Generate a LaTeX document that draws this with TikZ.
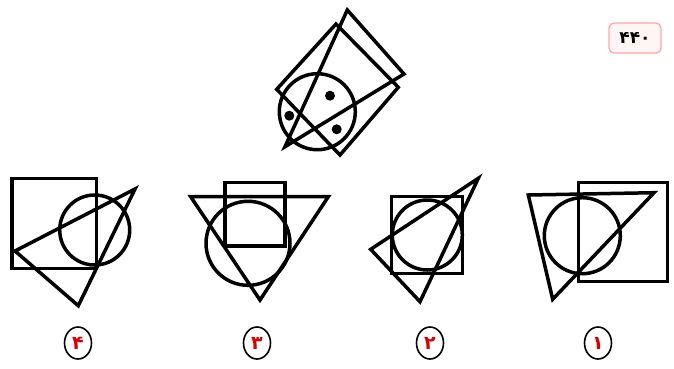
\documentclass[tikz,border=0pt]{standalone}
\usepackage{fontspec}
\usetikzlibrary{shapes.geometric}
\newfontfamily\arabicfont[Script=Arabic]{DejaVu Sans}
\tikzset{
  optlabel/.style={draw=black, ellipse, line width=1.6pt, fill=white,
    minimum width=27pt, minimum height=32pt, inner sep=0pt,
    text=red!85!black, font=\arabicfont\bfseries\fontsize{19}{22}\selectfont},
  qbox/.style={draw=red!35, rounded corners=5pt, line width=1.3pt, fill=red!4,
    minimum width=52pt, minimum height=30pt,
    font=\arabicfont\bfseries\fontsize{17}{20}\selectfont}
}
\begin{document}
\begin{tikzpicture}[x=1pt,y=-1pt,line width=3.5pt,line join=miter]
\useasboundingbox (0,0) rectangle (674,368);
% question figure
\draw (336,24) -- (398.3,87.3) -- (340,155) -- (276.7,89.3) -- cycle;
\draw (347.3,10) -- (404,74) -- (285,146.7) -- cycle;
\draw (317.3,111.7) circle[radius=38];
\fill (330,95.7) circle[radius=5];
\fill (289.3,115.7) circle[radius=5];
\fill (336.7,129.3) circle[radius=5];
% option 4
\draw (12,178.3) rectangle (96.7,268.3);
\draw (94.7,230) circle[radius=35];
\draw (135,189) -- (15,251) -- (78.3,305.7) -- cycle;
% option 3
\draw (225,182.7) rectangle (285,246);
\draw (248,243.3) circle[radius=42];
\draw (190.7,196.7) -- (328.3,196.7) -- (260,300) -- cycle;
% option 2
\draw (391.7,196.7) rectangle (462.7,273.3);
\draw (427.3,235) circle[radius=35];
\draw (478.3,178.3) -- (370.7,249.3) -- (420,301.7) -- cycle;
% option 1
\draw (578.3,182.7) rectangle (667.3,281.7);
\draw (582.3,235.7) circle[radius=38];
\draw (528.3,195) -- (654,192.7) -- (552.7,299.3) -- cycle;
% labels
\node[qbox] (qnum) at (635,38) {۴۴۰};
\node[optlabel] (opt4) at (78,343) {۴};
\node[optlabel] (opt3) at (257,343) {۳};
\node[optlabel] (opt2) at (430,343) {۲};
\node[optlabel] (opt1) at (598,343) {۱};
\end{tikzpicture}
\end{document}
